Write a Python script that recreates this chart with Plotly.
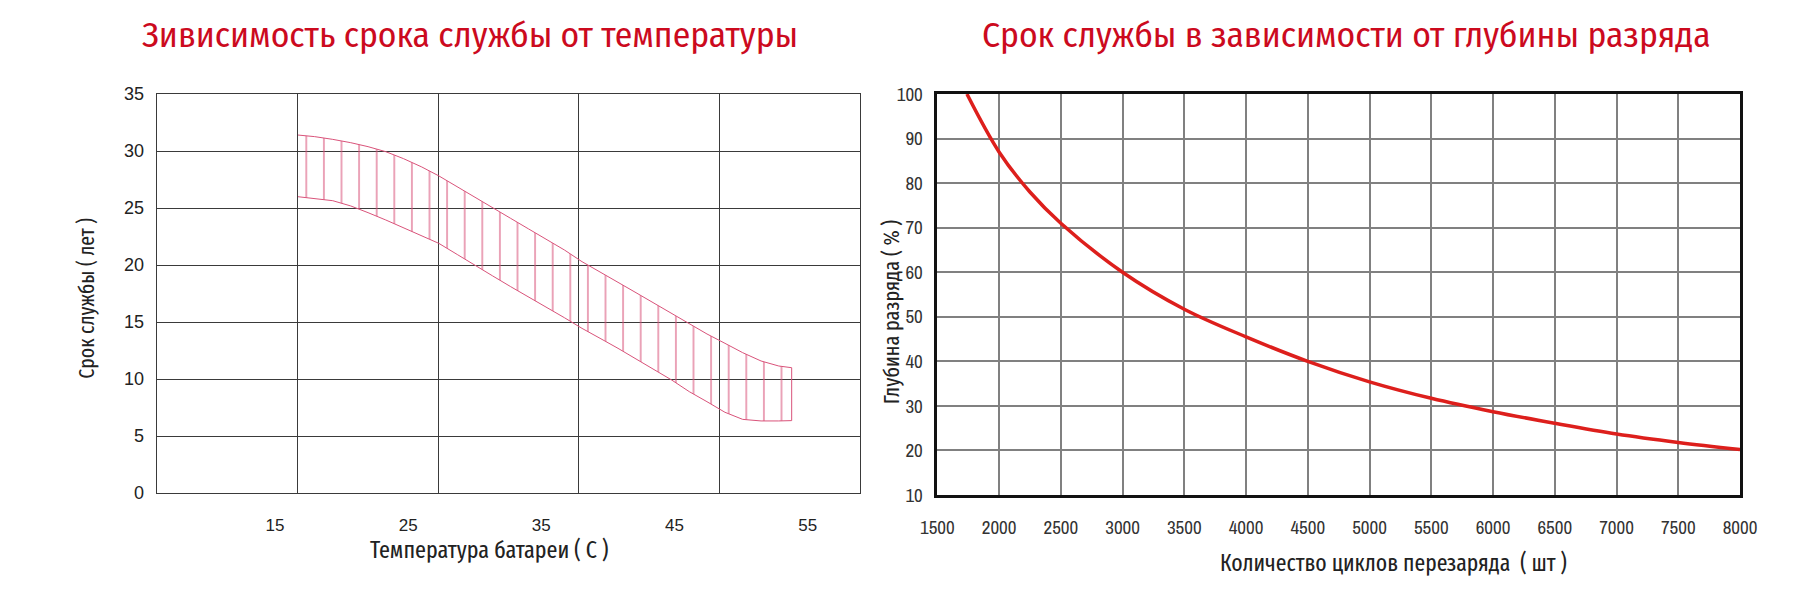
import plotly.graph_objects as go

W, H = 1813, 601

# ---------- data: left chart (service life vs temperature) ----------
temp_c = [16.73, 17.98, 19.34, 20.69, 21.99, 23.32, 24.65, 26.02, 27.30, 28.69,
          30.04, 31.35, 32.70, 34.05, 35.41, 36.73, 38.06, 39.41, 40.76, 42.11,
          43.46, 44.79, 46.11, 47.44, 48.79, 50.12, 51.50, 52.83, 53.80]
life_upper = [31.40, 31.26, 31.02, 30.73, 30.38, 29.94, 29.33, 28.60, 27.82, 26.84,
              25.94, 25.03, 24.09, 23.16, 22.19, 21.32, 20.29, 19.42, 18.48, 17.57,
              16.64, 15.76, 14.88, 13.95, 13.13, 12.31, 11.58, 11.14, 10.99]
life_lower = [25.99, 25.85, 25.64, 25.18, 24.59, 23.95, 23.26, 22.58, 21.90, 20.92,
              20.00, 19.04, 18.10, 17.16, 16.26, 15.38, 14.44, 13.57, 12.69, 11.73,
              10.85, 9.91, 8.89, 8.01, 7.08, 6.46, 6.32, 6.32, 6.35]
temp_ticks = [15, 25, 35, 45, 55]
life_ticks = [0, 5, 10, 15, 20, 25, 30, 35]

# ---------- data: right chart (depth of discharge vs cycles) ----------
cycles = [1740, 2000, 2250, 2500, 3000, 3500, 4000, 4500, 5000,
          5500, 6000, 6500, 7000, 7500, 8000]
dod = [100, 87, 78, 71, 60, 51.7, 45.5, 40, 35.4,
       31.7, 28.7, 26.1, 23.7, 21.8, 20.2]
cycle_ticks = list(range(1500, 8001, 500))
dod_ticks = list(range(10, 101, 10))

TITLE_1 = "Зивисимость срока службы от температуры"
TITLE_2 = "Срок службы в зависимости от глубины разряда"
XTITLE_1 = "Температура батареи ( С )"
XTITLE_2 = "Количество циклов перезаряда  ( шт )"
YTITLE_1 = "Срок службы ( лет )"
YTITLE_2 = "Глубина разряда ( % )"

TITLE_FONT = "Fira Sans Condensed, Fira Sans Extra Condensed, sans-serif"
LABEL_FONT = "Fira Sans Extra Condensed, Fira Sans Condensed, sans-serif"
NARROW = "Archivo Narrow, Barlow Condensed, sans-serif"
ARIAL = "Liberation Sans, Arial, sans-serif"

fig = go.Figure()

fig.add_trace(go.Scatter(
    x=temp_c + temp_c[::-1],
    y=life_upper + life_lower[::-1],
    mode="lines", fill="toself",
    line=dict(color="#d9537a", width=1),
    fillcolor="rgba(0,0,0,0)",
    fillpattern=dict(shape="|", size=17.6, solidity=0.06,
                     fgcolor="#d9537a", bgcolor="rgba(0,0,0,0)", fgopacity=1),
    xaxis="x", yaxis="y", showlegend=False, hoverinfo="skip",
))

fig.add_trace(go.Scatter(
    x=cycles, y=dod, mode="lines", line=dict(color="#dd1f1c", width=3.5, shape="spline"),
    xaxis="x2", yaxis="y2", showlegend=False,
))

fig.add_trace(go.Scatter(x=[None], y=[None], xaxis="x3", yaxis="y", showlegend=False))

ly0, ly1 = 1 - 493 / H, 1 - 94 / H
ry0, ry1 = 1 - 495 / H, 1 - 94 / H
lx0, lx1 = 156.7 / W, 860 / W
rx0, rx1 = 937.3 / W, 1740 / W

fig.update_layout(
    width=W, height=H, margin=dict(l=0, r=0, t=0, b=0, autoexpand=False),
    paper_bgcolor="white", plot_bgcolor="white",
    xaxis=dict(domain=[lx0, lx1], range=[6.12, 58.93], tickvals=temp_ticks,
               showgrid=False, zeroline=False, showline=False, ticks="",
               ticklabelstandoff=20,
               tickfont=dict(family=ARIAL, size=17, color="#222")),
    xaxis3=dict(overlaying="x", range=[0, 5], dtick=1, showgrid=True,
                gridcolor="#3a3a3a", gridwidth=1, showticklabels=False,
                zeroline=False, showline=True, mirror=True, linecolor="#3a3a3a",
                linewidth=1, ticks=""),
    yaxis=dict(domain=[ly0, ly1], range=[0, 35], tickvals=life_ticks,
               showgrid=True, gridcolor="#3a3a3a", gridwidth=1, zeroline=False,
               showline=True, mirror=True, linecolor="#3a3a3a", linewidth=1,
               ticks="", ticklabelstandoff=8,
               tickfont=dict(family=ARIAL, size=18, color="#222")),
    xaxis2=dict(domain=[rx0, rx1], range=[1500, 8000], tickvals=cycle_ticks,
                showgrid=True, gridcolor="#808080", gridwidth=2, zeroline=False,
                showline=True, mirror=True, linecolor="#111", linewidth=2.5,
                ticks="", ticklabelstandoff=13, anchor="y2",
                tickfont=dict(family=NARROW, size=19, color="#333")),
    yaxis2=dict(domain=[ry0, ry1], range=[10, 100], tickvals=dod_ticks,
                showgrid=True, gridcolor="#808080", gridwidth=2, zeroline=False,
                showline=True, mirror=True, linecolor="#111", linewidth=2.5,
                ticks="", ticklabelstandoff=8, anchor="x2",
                tickfont=dict(family=NARROW, size=19, color="#333")),
)

ann = [
    dict(text=TITLE_1, x=470 / W, y=1 - 35 / H,
         font=dict(family=TITLE_FONT, size=35.5, color="#cc0a1e", weight=400)),
    dict(text=TITLE_2, x=1346 / W, y=1 - 35 / H,
         font=dict(family=TITLE_FONT, size=35.5, color="#cc0a1e", weight=400)),
    dict(text=XTITLE_1, x=489 / W, y=1 - 550 / H,
         font=dict(family=LABEL_FONT, size=24, color="#222")),
    dict(text=XTITLE_2, x=1393 / W, y=1 - 563 / H,
         font=dict(family=LABEL_FONT, size=23.5, color="#222")),
    dict(text=YTITLE_1, x=86.7 / W, y=1 - 298 / H, textangle=-90,
         font=dict(family=LABEL_FONT, size=21.5, color="#222")),
    dict(text=YTITLE_2, x=891.7 / W, y=1 - 311.5 / H, textangle=-90,
         font=dict(family=LABEL_FONT, size=22, color="#222")),
]
for a in ann:
    a.update(xref="paper", yref="paper", xanchor="center", yanchor="middle", showarrow=False)
    fig.add_annotation(**a)

fig.write_html(
    "out.html",
    config={"displayModeBar": False},
    post_script="document.body.style.margin='0px';"
                "document.documentElement.style.overflow='hidden';"
                "document.body.style.overflow='hidden';",
)
